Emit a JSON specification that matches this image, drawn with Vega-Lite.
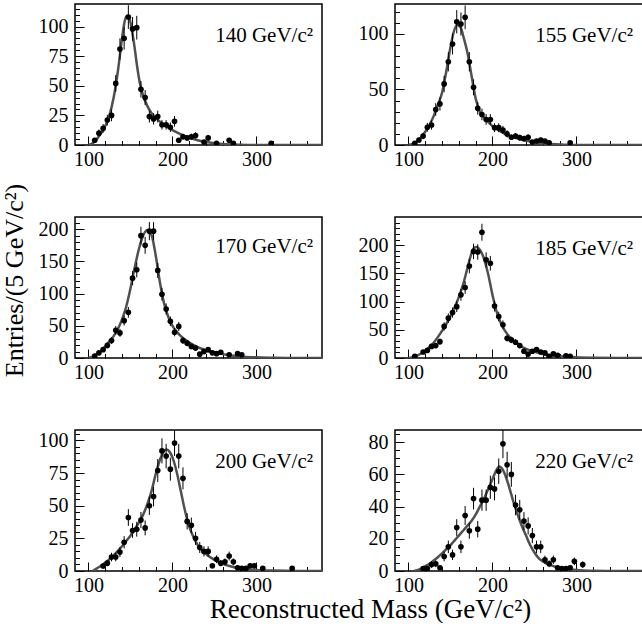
{
"$schema": "https://vega.github.io/schema/vega-lite/v6.json",
"padding": {"left": 0, "top": 3, "right": 0, "bottom": 0},
"datasets": {
"pts": [
{"m":140,"x":107.5,"y":4,"e":2},{"m":140,"x":112.5,"y":10,"e":3},{"m":140,"x":117.5,"y":14,"e":3.7},{"m":140,"x":122.5,"y":21,"e":4.5},{"m":140,"x":127.5,"y":25,"e":5},{"m":140,"x":132.5,"y":52,"e":7},{"m":140,"x":137.5,"y":81,"e":9},{"m":140,"x":142.5,"y":90,"e":9.5},{"m":140,"x":147.5,"y":108,"e":10},{"m":140,"x":152.5,"y":98,"e":10},{"m":140,"x":157.5,"y":99,"e":10},{"m":140,"x":162.5,"y":47,"e":7},{"m":140,"x":167.5,"y":40,"e":6.3},{"m":140,"x":172.5,"y":24,"e":5},{"m":140,"x":177.5,"y":22,"e":4.7},{"m":140,"x":182.5,"y":24,"e":5},{"m":140,"x":187.5,"y":17,"e":4},{"m":140,"x":192.5,"y":17,"e":4},{"m":140,"x":197.5,"y":15,"e":4},{"m":140,"x":202.5,"y":20,"e":4.5},{"m":140,"x":207.5,"y":4,"e":2},{"m":140,"x":212.5,"y":7,"e":2.6},{"m":140,"x":217.5,"y":6,"e":2.4},{"m":140,"x":222.5,"y":7,"e":2.6},{"m":140,"x":227.5,"y":8,"e":2.8},{"m":140,"x":237.5,"y":2.5,"e":1.6},{"m":140,"x":242.5,"y":6,"e":2.4},{"m":140,"x":252.5,"y":1.5,"e":1.2},{"m":140,"x":267.5,"y":4,"e":2},{"m":140,"x":272.5,"y":1.5,"e":1.2},{"m":140,"x":317.5,"y":1.5,"e":1.2},
{"m":155,"x":107.5,"y":1.5,"e":1.2},{"m":155,"x":112.5,"y":4.5,"e":2},{"m":155,"x":117.5,"y":8,"e":2.8},{"m":155,"x":122.5,"y":16,"e":4},{"m":155,"x":127.5,"y":18,"e":4.2},{"m":155,"x":132.5,"y":32,"e":5.7},{"m":155,"x":137.5,"y":37,"e":6},{"m":155,"x":142.5,"y":55,"e":7.4},{"m":155,"x":147.5,"y":75,"e":8.7},{"m":155,"x":152.5,"y":91,"e":9.5},{"m":155,"x":157.5,"y":111,"e":10.5},{"m":155,"x":162.5,"y":109,"e":10.4},{"m":155,"x":167.5,"y":115,"e":10.7},{"m":155,"x":172.5,"y":75,"e":8.7},{"m":155,"x":177.5,"y":52,"e":7.2},{"m":155,"x":182.5,"y":33,"e":5.7},{"m":155,"x":187.5,"y":27.5,"e":5.2},{"m":155,"x":192.5,"y":23,"e":4.8},{"m":155,"x":197.5,"y":23,"e":4.8},{"m":155,"x":202.5,"y":15.6,"e":4},{"m":155,"x":207.5,"y":15.6,"e":4},{"m":155,"x":212.5,"y":13.5,"e":3.7},{"m":155,"x":217.5,"y":10,"e":3.2},{"m":155,"x":222.5,"y":7,"e":2.6},{"m":155,"x":227.5,"y":8,"e":2.8},{"m":155,"x":232.5,"y":6.6,"e":2.6},{"m":155,"x":237.5,"y":5.7,"e":2.4},{"m":155,"x":242.5,"y":7,"e":2.6},{"m":155,"x":247.5,"y":2.7,"e":1.6},{"m":155,"x":252.5,"y":3.6,"e":1.9},{"m":155,"x":257.5,"y":4.5,"e":2.1},{"m":155,"x":262.5,"y":3.6,"e":1.9},{"m":155,"x":267.5,"y":2,"e":1.4},{"m":155,"x":292.5,"y":2,"e":1.4},
{"m":170,"x":107.5,"y":3,"e":1.7},{"m":170,"x":112.5,"y":8,"e":2.8},{"m":170,"x":117.5,"y":13,"e":3.6},{"m":170,"x":122.5,"y":19.6,"e":4.4},{"m":170,"x":127.5,"y":27,"e":5.2},{"m":170,"x":132.5,"y":43,"e":6.6},{"m":170,"x":137.5,"y":39,"e":6.2},{"m":170,"x":142.5,"y":58,"e":7.6},{"m":170,"x":147.5,"y":71,"e":8.4},{"m":170,"x":152.5,"y":124,"e":11},{"m":170,"x":157.5,"y":137,"e":11.7},{"m":170,"x":162.5,"y":190,"e":13.8},{"m":170,"x":167.5,"y":175,"e":13.2},{"m":170,"x":172.5,"y":197,"e":14},{"m":170,"x":177.5,"y":197,"e":14},{"m":170,"x":182.5,"y":136,"e":11.7},{"m":170,"x":187.5,"y":99,"e":10},{"m":170,"x":192.5,"y":76,"e":8.7},{"m":170,"x":197.5,"y":57,"e":7.5},{"m":170,"x":202.5,"y":40,"e":6.3},{"m":170,"x":207.5,"y":49,"e":7},{"m":170,"x":212.5,"y":27,"e":5.2},{"m":170,"x":217.5,"y":23,"e":4.8},{"m":170,"x":222.5,"y":18,"e":4.2},{"m":170,"x":227.5,"y":15.5,"e":3.9},{"m":170,"x":232.5,"y":6,"e":2.4},{"m":170,"x":237.5,"y":10,"e":3.2},{"m":170,"x":242.5,"y":13,"e":3.6},{"m":170,"x":247.5,"y":8,"e":2.8},{"m":170,"x":252.5,"y":6.7,"e":2.6},{"m":170,"x":257.5,"y":9,"e":3},{"m":170,"x":267.5,"y":5,"e":2.2},{"m":170,"x":277.5,"y":6.7,"e":2.6},{"m":170,"x":282.5,"y":5,"e":2.2},
{"m":185,"x":107.5,"y":3,"e":1.7},{"m":185,"x":117.5,"y":10.6,"e":3.3},{"m":185,"x":122.5,"y":13.5,"e":3.7},{"m":185,"x":127.5,"y":20.6,"e":4.5},{"m":185,"x":132.5,"y":22,"e":4.7},{"m":185,"x":137.5,"y":29,"e":5.4},{"m":185,"x":142.5,"y":56,"e":7.5},{"m":185,"x":147.5,"y":70.6,"e":8.4},{"m":185,"x":152.5,"y":80.6,"e":9},{"m":185,"x":157.5,"y":91,"e":9.5},{"m":185,"x":162.5,"y":112,"e":10.6},{"m":185,"x":167.5,"y":125,"e":11.2},{"m":185,"x":172.5,"y":163,"e":12.8},{"m":185,"x":177.5,"y":189,"e":13.7},{"m":185,"x":182.5,"y":188,"e":13.7},{"m":185,"x":187.5,"y":223,"e":15},{"m":185,"x":192.5,"y":174,"e":13.2},{"m":185,"x":197.5,"y":168,"e":13},{"m":185,"x":202.5,"y":92,"e":9.6},{"m":185,"x":207.5,"y":73.5,"e":8.6},{"m":185,"x":212.5,"y":59,"e":7.7},{"m":185,"x":217.5,"y":35,"e":5.9},{"m":185,"x":222.5,"y":32,"e":5.7},{"m":185,"x":227.5,"y":28,"e":5.3},{"m":185,"x":232.5,"y":22,"e":4.7},{"m":185,"x":237.5,"y":12,"e":3.5},{"m":185,"x":242.5,"y":7,"e":2.6},{"m":185,"x":247.5,"y":12,"e":3.5},{"m":185,"x":252.5,"y":15,"e":3.9},{"m":185,"x":257.5,"y":10.6,"e":3.3},{"m":185,"x":262.5,"y":9,"e":3},{"m":185,"x":267.5,"y":3,"e":1.7},{"m":185,"x":272.5,"y":7.6,"e":2.8},{"m":185,"x":277.5,"y":4.7,"e":2.2},{"m":185,"x":287.5,"y":4,"e":2},{"m":185,"x":292.5,"y":3,"e":1.7},
{"m":200,"x":117.5,"y":3.8,"e":1.9},{"m":200,"x":122.5,"y":6,"e":2.4},{"m":200,"x":127.5,"y":10.7,"e":3.3},{"m":200,"x":132.5,"y":10.7,"e":3.3},{"m":200,"x":137.5,"y":14.5,"e":3.8},{"m":200,"x":142.5,"y":22,"e":4.7},{"m":200,"x":147.5,"y":41,"e":6.4},{"m":200,"x":152.5,"y":31,"e":5.6},{"m":200,"x":157.5,"y":32,"e":5.7},{"m":200,"x":162.5,"y":39,"e":6.2},{"m":200,"x":167.5,"y":33,"e":5.7},{"m":200,"x":172.5,"y":50,"e":7},{"m":200,"x":177.5,"y":57,"e":7.5},{"m":200,"x":182.5,"y":77,"e":8.8},{"m":200,"x":187.5,"y":92,"e":9.6},{"m":200,"x":192.5,"y":88,"e":9.4},{"m":200,"x":197.5,"y":78,"e":8.8},{"m":200,"x":202.5,"y":98,"e":9.9},{"m":200,"x":207.5,"y":88,"e":9.4},{"m":200,"x":212.5,"y":71,"e":8.4},{"m":200,"x":217.5,"y":38,"e":6.2},{"m":200,"x":222.5,"y":35,"e":5.9},{"m":200,"x":227.5,"y":25,"e":5},{"m":200,"x":232.5,"y":18,"e":4.2},{"m":200,"x":237.5,"y":15,"e":3.9},{"m":200,"x":242.5,"y":15,"e":3.9},{"m":200,"x":247.5,"y":4,"e":2},{"m":200,"x":252.5,"y":9,"e":3},{"m":200,"x":257.5,"y":6,"e":2.4},{"m":200,"x":262.5,"y":7,"e":2.6},{"m":200,"x":267.5,"y":11.5,"e":3.4},{"m":200,"x":272.5,"y":7,"e":2.6},{"m":200,"x":277.5,"y":2.5,"e":1.6},{"m":200,"x":282.5,"y":2,"e":1.4},{"m":200,"x":287.5,"y":2,"e":1.4},{"m":200,"x":292.5,"y":4,"e":2},{"m":200,"x":297.5,"y":4,"e":2},{"m":200,"x":307.5,"y":2,"e":1.4},{"m":200,"x":342.5,"y":2,"e":1.4},
{"m":220,"x":117.5,"y":1.5,"e":1.2},{"m":220,"x":122.5,"y":1.5,"e":1.2},{"m":220,"x":127.5,"y":4,"e":2},{"m":220,"x":132.5,"y":4.5,"e":2.1},{"m":220,"x":137.5,"y":2,"e":1.4},{"m":220,"x":142.5,"y":9,"e":3},{"m":220,"x":147.5,"y":15,"e":3.9},{"m":220,"x":152.5,"y":10,"e":3.2},{"m":220,"x":157.5,"y":27,"e":5.2},{"m":220,"x":162.5,"y":15,"e":3.9},{"m":220,"x":167.5,"y":34.5,"e":5.9},{"m":220,"x":172.5,"y":25,"e":5},{"m":220,"x":177.5,"y":45,"e":6.7},{"m":220,"x":182.5,"y":26,"e":5.1},{"m":220,"x":187.5,"y":44,"e":6.6},{"m":220,"x":192.5,"y":44,"e":6.6},{"m":220,"x":197.5,"y":52,"e":7.2},{"m":220,"x":202.5,"y":51,"e":7.1},{"m":220,"x":207.5,"y":62,"e":7.9},{"m":220,"x":212.5,"y":79,"e":8.9},{"m":220,"x":217.5,"y":66,"e":8.1},{"m":220,"x":222.5,"y":60,"e":7.7},{"m":220,"x":227.5,"y":41,"e":6.4},{"m":220,"x":232.5,"y":38,"e":6.2},{"m":220,"x":237.5,"y":31,"e":5.6},{"m":220,"x":242.5,"y":28,"e":5.3},{"m":220,"x":247.5,"y":22,"e":4.7},{"m":220,"x":252.5,"y":15,"e":3.9},{"m":220,"x":257.5,"y":15,"e":3.9},{"m":220,"x":262.5,"y":7,"e":2.6},{"m":220,"x":267.5,"y":4.5,"e":2.1},{"m":220,"x":272.5,"y":7,"e":2.6},{"m":220,"x":277.5,"y":2,"e":1.4},{"m":220,"x":282.5,"y":1.5,"e":1.2},{"m":220,"x":287.5,"y":1.5,"e":1.2},{"m":220,"x":292.5,"y":2,"e":1.4},{"m":220,"x":297.5,"y":6,"e":2.4},{"m":220,"x":307.5,"y":4,"e":2}
],
"fit": [
{"m":140,"x":100,"y":0},{"m":140,"x":105,"y":1.5},{"m":140,"x":110,"y":5},{"m":140,"x":115,"y":10},{"m":140,"x":120,"y":16},{"m":140,"x":125,"y":25},{"m":140,"x":130,"y":40},{"m":140,"x":135,"y":62},{"m":140,"x":140,"y":90},{"m":140,"x":143,"y":104},{"m":140,"x":146,"y":109},{"m":140,"x":149,"y":106},{"m":140,"x":152,"y":96},{"m":140,"x":155,"y":82},{"m":140,"x":158,"y":66},{"m":140,"x":161,"y":53},{"m":140,"x":165,"y":42},{"m":140,"x":170,"y":33},{"m":140,"x":175,"y":27},{"m":140,"x":180,"y":23},{"m":140,"x":190,"y":17},{"m":140,"x":200,"y":12.5},{"m":140,"x":210,"y":9},{"m":140,"x":220,"y":6},{"m":140,"x":230,"y":4},{"m":140,"x":240,"y":2.5},{"m":140,"x":250,"y":1.5},{"m":140,"x":260,"y":0.8},{"m":140,"x":280,"y":0.2},{"m":140,"x":300,"y":0},{"m":140,"x":378,"y":0},
{"m":155,"x":100,"y":0},{"m":155,"x":105,"y":1},{"m":155,"x":110,"y":3},{"m":155,"x":115,"y":7},{"m":155,"x":120,"y":12},{"m":155,"x":125,"y":18},{"m":155,"x":130,"y":26},{"m":155,"x":135,"y":36},{"m":155,"x":140,"y":47},{"m":155,"x":145,"y":66},{"m":155,"x":150,"y":88},{"m":155,"x":154,"y":102},{"m":155,"x":158,"y":108},{"m":155,"x":162,"y":106},{"m":155,"x":166,"y":96},{"m":155,"x":170,"y":84},{"m":155,"x":175,"y":63},{"m":155,"x":180,"y":42},{"m":155,"x":185,"y":30},{"m":155,"x":190,"y":25},{"m":155,"x":200,"y":17},{"m":155,"x":210,"y":12},{"m":155,"x":220,"y":8.5},{"m":155,"x":230,"y":6},{"m":155,"x":240,"y":4},{"m":155,"x":250,"y":2.5},{"m":155,"x":260,"y":1.5},{"m":155,"x":270,"y":0.8},{"m":155,"x":285,"y":0.3},{"m":155,"x":300,"y":0},{"m":155,"x":384,"y":0},
{"m":170,"x":100,"y":0},{"m":170,"x":105,"y":2},{"m":170,"x":110,"y":6},{"m":170,"x":115,"y":11},{"m":170,"x":120,"y":18},{"m":170,"x":125,"y":26},{"m":170,"x":130,"y":34},{"m":170,"x":135,"y":45},{"m":170,"x":140,"y":60},{"m":170,"x":145,"y":80},{"m":170,"x":150,"y":108},{"m":170,"x":155,"y":140},{"m":170,"x":160,"y":169},{"m":170,"x":165,"y":190},{"m":170,"x":170,"y":199},{"m":170,"x":173,"y":197},{"m":170,"x":176,"y":187},{"m":170,"x":180,"y":160},{"m":170,"x":185,"y":118},{"m":170,"x":190,"y":85},{"m":170,"x":195,"y":64},{"m":170,"x":200,"y":50},{"m":170,"x":205,"y":41},{"m":170,"x":210,"y":34},{"m":170,"x":220,"y":24},{"m":170,"x":230,"y":17},{"m":170,"x":240,"y":12},{"m":170,"x":250,"y":8.5},{"m":170,"x":260,"y":6},{"m":170,"x":270,"y":4},{"m":170,"x":280,"y":2.5},{"m":170,"x":300,"y":1},{"m":170,"x":320,"y":0.4},{"m":170,"x":350,"y":0},{"m":170,"x":378,"y":0},
{"m":185,"x":100,"y":0},{"m":185,"x":105,"y":1.5},{"m":185,"x":110,"y":4},{"m":185,"x":115,"y":8},{"m":185,"x":120,"y":13},{"m":185,"x":125,"y":19},{"m":185,"x":130,"y":27},{"m":185,"x":135,"y":37},{"m":185,"x":140,"y":48},{"m":185,"x":145,"y":60},{"m":185,"x":150,"y":74},{"m":185,"x":155,"y":90},{"m":185,"x":160,"y":108},{"m":185,"x":165,"y":130},{"m":185,"x":170,"y":158},{"m":185,"x":175,"y":185},{"m":185,"x":178,"y":195},{"m":185,"x":181,"y":197},{"m":185,"x":185,"y":192},{"m":185,"x":190,"y":176},{"m":185,"x":195,"y":148},{"m":185,"x":200,"y":112},{"m":185,"x":205,"y":82},{"m":185,"x":210,"y":62},{"m":185,"x":215,"y":48},{"m":185,"x":220,"y":38},{"m":185,"x":230,"y":25},{"m":185,"x":240,"y":16},{"m":185,"x":250,"y":11},{"m":185,"x":260,"y":7},{"m":185,"x":270,"y":4.5},{"m":185,"x":280,"y":3},{"m":185,"x":300,"y":1.2},{"m":185,"x":320,"y":0.4},{"m":185,"x":350,"y":0},{"m":185,"x":384,"y":0},
{"m":200,"x":105,"y":0},{"m":200,"x":110,"y":2},{"m":200,"x":115,"y":4},{"m":200,"x":120,"y":6.5},{"m":200,"x":125,"y":9},{"m":200,"x":130,"y":12},{"m":200,"x":135,"y":15.5},{"m":200,"x":140,"y":19},{"m":200,"x":145,"y":23},{"m":200,"x":150,"y":27},{"m":200,"x":155,"y":32},{"m":200,"x":160,"y":37},{"m":200,"x":165,"y":43},{"m":200,"x":170,"y":51},{"m":200,"x":175,"y":61},{"m":200,"x":180,"y":74},{"m":200,"x":185,"y":85},{"m":200,"x":190,"y":92},{"m":200,"x":193,"y":93},{"m":200,"x":197,"y":91},{"m":200,"x":200,"y":87},{"m":200,"x":205,"y":76},{"m":200,"x":210,"y":61},{"m":200,"x":215,"y":46},{"m":200,"x":220,"y":34},{"m":200,"x":225,"y":26},{"m":200,"x":230,"y":20},{"m":200,"x":240,"y":13},{"m":200,"x":250,"y":8.5},{"m":200,"x":260,"y":5.5},{"m":200,"x":270,"y":3.5},{"m":200,"x":280,"y":2},{"m":200,"x":300,"y":0.8},{"m":200,"x":320,"y":0.3},{"m":200,"x":350,"y":0},{"m":200,"x":378,"y":0},
{"m":220,"x":107,"y":0},{"m":220,"x":110,"y":0.5},{"m":220,"x":115,"y":1.5},{"m":220,"x":120,"y":3},{"m":220,"x":125,"y":4.5},{"m":220,"x":130,"y":6.5},{"m":220,"x":135,"y":8.5},{"m":220,"x":140,"y":11},{"m":220,"x":145,"y":13.5},{"m":220,"x":150,"y":16},{"m":220,"x":155,"y":19},{"m":220,"x":160,"y":22},{"m":220,"x":165,"y":25},{"m":220,"x":170,"y":28},{"m":220,"x":175,"y":31},{"m":220,"x":180,"y":35},{"m":220,"x":185,"y":40},{"m":220,"x":190,"y":45},{"m":220,"x":195,"y":51},{"m":220,"x":200,"y":57},{"m":220,"x":205,"y":63},{"m":220,"x":208,"y":65},{"m":220,"x":211,"y":64},{"m":220,"x":215,"y":60},{"m":220,"x":220,"y":52},{"m":220,"x":225,"y":43},{"m":220,"x":230,"y":35},{"m":220,"x":235,"y":28},{"m":220,"x":240,"y":22},{"m":220,"x":245,"y":16},{"m":220,"x":250,"y":11.5},{"m":220,"x":255,"y":8},{"m":220,"x":260,"y":6},{"m":220,"x":270,"y":3.5},{"m":220,"x":280,"y":2},{"m":220,"x":300,"y":0.7},{"m":220,"x":320,"y":0.2},{"m":220,"x":350,"y":0},{"m":220,"x":384,"y":0}
]
},
"columns": 2,
"spacing": {"row": 72, "column": 73},
"bounds": "flush",
"concat": [
{"width": 247, "height": 141, "title": {"text": "140 GeV/c²"},
 "encoding": {
  "x": {"field": "x", "type": "quantitative", "scale": {"domain": [84, 378], "nice": false, "zero": false},
        "axis": {"title": null, "values": [100,120,140,160,180,200,220,240,260,280,300,320,340,360], "labelExpr": "datum.value % 100 === 0 ? datum.label : ''", "labelFontSize": {"condition": {"test": "datum.value % 100 === 0", "value": 20}, "value": 0}, "tickSize": {"condition": {"test": "datum.value % 100 === 0", "value": -9}, "value": -4.5}}},
  "y": {"field": "y", "type": "quantitative", "scale": {"domain": [0, 119], "nice": false},
        "axis": {"title": null, "values": [0,5,10,15,20,25,30,35,40,45,50,55,60,65,70,75,80,85,90,95,100,105,110,115], "labelExpr": "datum.value % 25 === 0 ? datum.label : ''", "labelFontSize": {"condition": {"test": "datum.value % 25 === 0", "value": 20}, "value": 0}, "tickSize": {"condition": {"test": "datum.value % 25 === 0", "value": -9}, "value": -4.5}}}
 },
 "layer": [
  {"data": {"name": "fit"}, "transform": [{"filter": "datum.m == 140"}], "mark": {"type": "line", "color": "#505050", "strokeWidth": 2.5, "interpolate": "monotone", "clip": true}},
  {"data": {"name": "pts"}, "transform": [{"filter": "datum.m == 140"}], "mark": {"type": "errorbar", "color": "black", "clip": true}, "encoding": {"yError": {"field": "e"}}},
  {"data": {"name": "pts"}, "transform": [{"filter": "datum.m == 140"}], "mark": {"type": "circle", "color": "black", "size": 32, "opacity": 1, "clip": true}}
 ]},
{"width": 252, "height": 141, "title": {"text": "155 GeV/c²", "dx": -14},
 "encoding": {
  "x": {"field": "x", "type": "quantitative", "scale": {"domain": [84, 384], "nice": false, "zero": false},
        "axis": {"title": null, "values": [100,120,140,160,180,200,220,240,260,280,300,320,340,360,380], "labelExpr": "datum.value % 100 === 0 ? datum.label : ''", "labelFontSize": {"condition": {"test": "datum.value % 100 === 0", "value": 20}, "value": 0}, "tickSize": {"condition": {"test": "datum.value % 100 === 0", "value": -9}, "value": -4.5}}},
  "y": {"field": "y", "type": "quantitative", "scale": {"domain": [0, 127], "nice": false},
        "axis": {"title": null, "values": [0,10,20,30,40,50,60,70,80,90,100,110,120], "labelExpr": "datum.value % 50 === 0 ? datum.label : ''", "labelFontSize": {"condition": {"test": "datum.value % 50 === 0", "value": 20}, "value": 0}, "tickSize": {"condition": {"test": "datum.value % 50 === 0", "value": -9}, "value": -4.5}}}
 },
 "layer": [
  {"data": {"name": "fit"}, "transform": [{"filter": "datum.m == 155"}], "mark": {"type": "line", "color": "#505050", "strokeWidth": 2.5, "interpolate": "monotone", "clip": true}},
  {"data": {"name": "pts"}, "transform": [{"filter": "datum.m == 155"}], "mark": {"type": "errorbar", "color": "black", "clip": true}, "encoding": {"yError": {"field": "e"}}},
  {"data": {"name": "pts"}, "transform": [{"filter": "datum.m == 155"}], "mark": {"type": "circle", "color": "black", "size": 32, "opacity": 1, "clip": true}}
 ]},
{"width": 247, "height": 141, "title": {"text": "170 GeV/c²", "offset": -74},
 "encoding": {
  "x": {"field": "x", "type": "quantitative", "scale": {"domain": [84, 378], "nice": false, "zero": false},
        "axis": {"title": null, "values": [100,120,140,160,180,200,220,240,260,280,300,320,340,360], "labelExpr": "datum.value % 100 === 0 ? datum.label : ''", "labelFontSize": {"condition": {"test": "datum.value % 100 === 0", "value": 20}, "value": 0}, "tickSize": {"condition": {"test": "datum.value % 100 === 0", "value": -9}, "value": -4.5}}},
  "y": {"field": "y", "type": "quantitative", "scale": {"domain": [0, 219], "nice": false},
        "axis": {"title": "Entries/(5 GeV/c²)", "titleFontSize": 26, "titleX": -61, "titleY": 63, "titleAngle": 270, "titleAlign": "center", "titleBaseline": "middle",
                 "values": [0,10,20,30,40,50,60,70,80,90,100,110,120,130,140,150,160,170,180,190,200,210], "labelExpr": "datum.value % 50 === 0 ? datum.label : ''", "labelFontSize": {"condition": {"test": "datum.value % 50 === 0", "value": 20}, "value": 0}, "tickSize": {"condition": {"test": "datum.value % 50 === 0", "value": -9}, "value": -4.5}}}
 },
 "layer": [
  {"data": {"name": "fit"}, "transform": [{"filter": "datum.m == 170"}], "mark": {"type": "line", "color": "#505050", "strokeWidth": 2.5, "interpolate": "monotone", "clip": true}},
  {"data": {"name": "pts"}, "transform": [{"filter": "datum.m == 170"}], "mark": {"type": "errorbar", "color": "black", "clip": true}, "encoding": {"yError": {"field": "e"}}},
  {"data": {"name": "pts"}, "transform": [{"filter": "datum.m == 170"}], "mark": {"type": "circle", "color": "black", "size": 32, "opacity": 1, "clip": true}}
 ]},
{"width": 252, "height": 141, "title": {"text": "185 GeV/c²", "dx": -14},
 "encoding": {
  "x": {"field": "x", "type": "quantitative", "scale": {"domain": [84, 384], "nice": false, "zero": false},
        "axis": {"title": null, "values": [100,120,140,160,180,200,220,240,260,280,300,320,340,360,380], "labelExpr": "datum.value % 100 === 0 ? datum.label : ''", "labelFontSize": {"condition": {"test": "datum.value % 100 === 0", "value": 20}, "value": 0}, "tickSize": {"condition": {"test": "datum.value % 100 === 0", "value": -9}, "value": -4.5}}},
  "y": {"field": "y", "type": "quantitative", "scale": {"domain": [0, 250], "nice": false},
        "axis": {"title": null, "values": [0,10,20,30,40,50,60,70,80,90,100,110,120,130,140,150,160,170,180,190,200,210,220,230,240], "labelExpr": "datum.value % 50 === 0 ? datum.label : ''", "labelFontSize": {"condition": {"test": "datum.value % 50 === 0", "value": 20}, "value": 0}, "tickSize": {"condition": {"test": "datum.value % 50 === 0", "value": -9}, "value": -4.5}}}
 },
 "layer": [
  {"data": {"name": "fit"}, "transform": [{"filter": "datum.m == 185"}], "mark": {"type": "line", "color": "#505050", "strokeWidth": 2.5, "interpolate": "monotone", "clip": true}},
  {"data": {"name": "pts"}, "transform": [{"filter": "datum.m == 185"}], "mark": {"type": "errorbar", "color": "black", "clip": true}, "encoding": {"yError": {"field": "e"}}},
  {"data": {"name": "pts"}, "transform": [{"filter": "datum.m == 185"}], "mark": {"type": "circle", "color": "black", "size": 32, "opacity": 1, "clip": true}}
 ]},
{"width": 247, "height": 141, "title": {"text": "200 GeV/c²"},
 "encoding": {
  "x": {"field": "x", "type": "quantitative", "scale": {"domain": [84, 378], "nice": false, "zero": false},
        "axis": {"title": "Reconstructed Mass (GeV/c²)", "titleFontSize": 27, "titleX": 295, "titleY": 38, "titleAlign": "center", "titleBaseline": "middle",
                 "values": [100,120,140,160,180,200,220,240,260,280,300,320,340,360], "labelExpr": "datum.value % 100 === 0 ? datum.label : ''", "labelFontSize": {"condition": {"test": "datum.value % 100 === 0", "value": 20}, "value": 0}, "tickSize": {"condition": {"test": "datum.value % 100 === 0", "value": -9}, "value": -4.5}}},
  "y": {"field": "y", "type": "quantitative", "scale": {"domain": [0, 108], "nice": false},
        "axis": {"title": null, "values": [0,5,10,15,20,25,30,35,40,45,50,55,60,65,70,75,80,85,90,95,100,105], "labelExpr": "datum.value % 25 === 0 ? datum.label : ''", "labelFontSize": {"condition": {"test": "datum.value % 25 === 0", "value": 20}, "value": 0}, "tickSize": {"condition": {"test": "datum.value % 25 === 0", "value": -9}, "value": -4.5}}}
 },
 "layer": [
  {"data": {"name": "fit"}, "transform": [{"filter": "datum.m == 200"}], "mark": {"type": "line", "color": "#505050", "strokeWidth": 2.5, "interpolate": "monotone", "clip": true}},
  {"data": {"name": "pts"}, "transform": [{"filter": "datum.m == 200"}], "mark": {"type": "errorbar", "color": "black", "clip": true}, "encoding": {"yError": {"field": "e"}}},
  {"data": {"name": "pts"}, "transform": [{"filter": "datum.m == 200"}], "mark": {"type": "circle", "color": "black", "size": 32, "opacity": 1, "clip": true}}
 ]},
{"width": 252, "height": 141, "title": {"text": "220 GeV/c²", "dx": -14},
 "encoding": {
  "x": {"field": "x", "type": "quantitative", "scale": {"domain": [84, 384], "nice": false, "zero": false},
        "axis": {"title": null, "values": [100,120,140,160,180,200,220,240,260,280,300,320,340,360,380], "labelExpr": "datum.value % 100 === 0 ? datum.label : ''", "labelFontSize": {"condition": {"test": "datum.value % 100 === 0", "value": 20}, "value": 0}, "tickSize": {"condition": {"test": "datum.value % 100 === 0", "value": -9}, "value": -4.5}}},
  "y": {"field": "y", "type": "quantitative", "scale": {"domain": [0, 87.6], "nice": false},
        "axis": {"title": null, "values": [0,5,10,15,20,25,30,35,40,45,50,55,60,65,70,75,80,85], "labelExpr": "datum.value % 20 === 0 ? datum.label : ''", "labelFontSize": {"condition": {"test": "datum.value % 20 === 0", "value": 20}, "value": 0}, "tickSize": {"condition": {"test": "datum.value % 20 === 0", "value": -9}, "value": -4.5}}}
 },
 "layer": [
  {"data": {"name": "fit"}, "transform": [{"filter": "datum.m == 220"}], "mark": {"type": "line", "color": "#505050", "strokeWidth": 2.5, "interpolate": "monotone", "clip": true}},
  {"data": {"name": "pts"}, "transform": [{"filter": "datum.m == 220"}], "mark": {"type": "errorbar", "color": "black", "clip": true}, "encoding": {"yError": {"field": "e"}}},
  {"data": {"name": "pts"}, "transform": [{"filter": "datum.m == 220"}], "mark": {"type": "circle", "color": "black", "size": 32, "opacity": 1, "clip": true}}
 ]}
],
"config": {
 "view": {"stroke": "black", "strokeWidth": 1.5},
 "axis": {"labelFont": "Liberation Serif", "labelColor": "black", "tickColor": "black", "tickWidth": 1, "domain": false, "grid": false, "labelOverlap": false, "labelFlush": false, "titleFont": "Liberation Serif", "titleFontWeight": "normal", "titleColor": "black"},
 "axisX": {"labelPadding": 13},
 "axisY": {"labelPadding": 16},
 "title": {"font": "Liberation Serif", "fontSize": 21, "fontWeight": "normal", "color": "black", "anchor": "end", "frame": "group", "offset": -42, "dx": -9, "baseline": "alphabetic"}
}
}
